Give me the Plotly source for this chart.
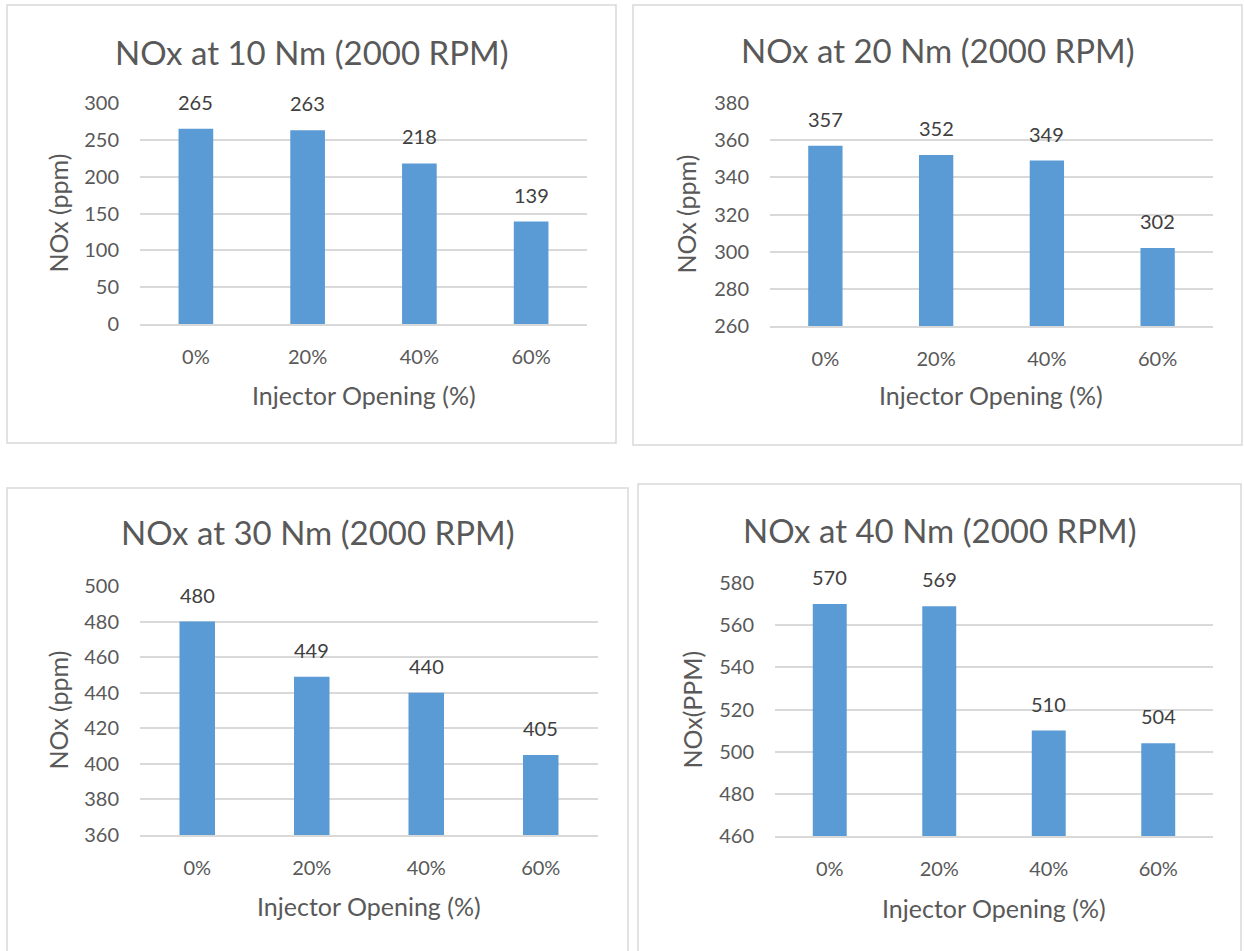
import plotly.graph_objects as go

W, H = 1244, 951

categories = ["0%", "20%", "40%", "60%"]
nox_10nm = [265, 263, 218, 139]
nox_20nm = [357, 352, 349, 302]
nox_30nm = [480, 449, 440, 405]
nox_40nm = [570, 569, 510, 504]

titles = ["NOx at 10 Nm (2000 RPM)", "NOx at 20 Nm (2000 RPM)",
          "NOx at 30 Nm (2000 RPM)", "NOx at 40 Nm (2000 RPM)"]
y_titles = ["NOx (ppm)", "NOx (ppm)", "NOx (ppm)", "NOx(PPM)"]
x_title = "Injector Opening (%)"
y_ranges = [[0, 300], [260, 380], [360, 500], [460, 580]]
y_dticks = [50, 20, 20, 20]
series = [nox_10nm, nox_20nm, nox_30nm, nox_40nm]

# pixel layout: (box l, t, r, b), (plot l, t, r, b)
boxes = [(7, 5, 616, 443), (633, 5, 1242, 445), (7, 488, 628, 960), (638, 484, 1241, 960)]
plots = [(140, 103, 587, 324), (770, 103, 1213, 326), (140, 586, 598, 835), (775, 583, 1213, 836)]
title_y = [52, 50, 532, 530]
ytitle_x = [58, 685, 57, 691]
xtitle_y = [395, 395, 906, 908]

FONT = "Lato"
TXT = "#595959"
BAR = "#5B9BD5"
GRID = "#D9D9D9"

def px(x):
    return x / W

def py(y):
    return 1 - y / H

fig = go.Figure()
annotations = []
shapes = []

for i in range(4):
    ax = "" if i == 0 else str(i + 1)
    xa, ya = "x" + ax, "y" + ax
    fig.add_trace(go.Bar(x=categories, y=series[i], marker_color=BAR,
                         marker_line_width=0, width=0.31, xaxis=xa, yaxis=ya,
                         showlegend=False, hoverinfo="x+y"))
    pl, pt, pr, pb = plots[i]
    fig.layout["xaxis" + ax] = dict(
        domain=[px(pl), px(pr)], anchor=ya, showgrid=False, zeroline=False,
        showline=True, linecolor=GRID, linewidth=1.5, automargin=False,
        tickfont=dict(family=FONT, size=20, color=TXT), ticklabelstandoff=14,
        ticks="", fixedrange=True)
    fig.layout["yaxis" + ax] = dict(
        domain=[py(pb), py(pt)], anchor=xa, range=y_ranges[i], dtick=y_dticks[i],
        showgrid=True, gridcolor=GRID, gridwidth=1.5, zeroline=False, showline=False,
        automargin=False,
        tickfont=dict(family=FONT, size=20, color=TXT), ticklabelstandoff=20,
        ticks="", fixedrange=True)
    # data labels
    for c, v in zip(categories, series[i]):
        annotations.append(dict(x=c, y=v, xref=xa, yref=ya, text=str(v), showarrow=False,
                                yanchor="bottom", yshift=13,
                                font=dict(family=FONT, size=20, color="#404040")))
    bl, bt, br, bb = boxes[i]
    shapes.append(dict(type="rect", xref="paper", yref="paper", x0=px(bl), x1=px(br),
                       y0=py(bb), y1=py(bt), line=dict(color=GRID, width=1.5), layer="below"))
    annotations.append(dict(x=px((bl + br) / 2), y=py(title_y[i]), xref="paper", yref="paper",
                            text=titles[i], showarrow=False, xanchor="center", yanchor="middle",
                            font=dict(family=FONT, size=33, color=TXT)))
    annotations.append(dict(x=px(ytitle_x[i]), y=py((pt + pb) / 2), xref="paper", yref="paper",
                            text=y_titles[i], showarrow=False, textangle=-90,
                            xanchor="center", yanchor="middle",
                            font=dict(family=FONT, size=25, color=TXT)))
    annotations.append(dict(x=px((pl + pr) / 2), y=py(xtitle_y[i]), xref="paper", yref="paper",
                            text=x_title, showarrow=False, xanchor="center", yanchor="middle",
                            font=dict(family=FONT, size=25, color=TXT)))

fig.update_layout(width=W, height=H,
                  margin=dict(l=0, r=0, t=0, b=0, pad=0, autoexpand=False),
                  paper_bgcolor="white", plot_bgcolor="white",
                  annotations=annotations, shapes=shapes, bargap=0.69)

fig.write_html("out.html", config={"displayModeBar": False},
               post_script="document.body.style.margin='0';document.body.style.overflow='hidden';")
